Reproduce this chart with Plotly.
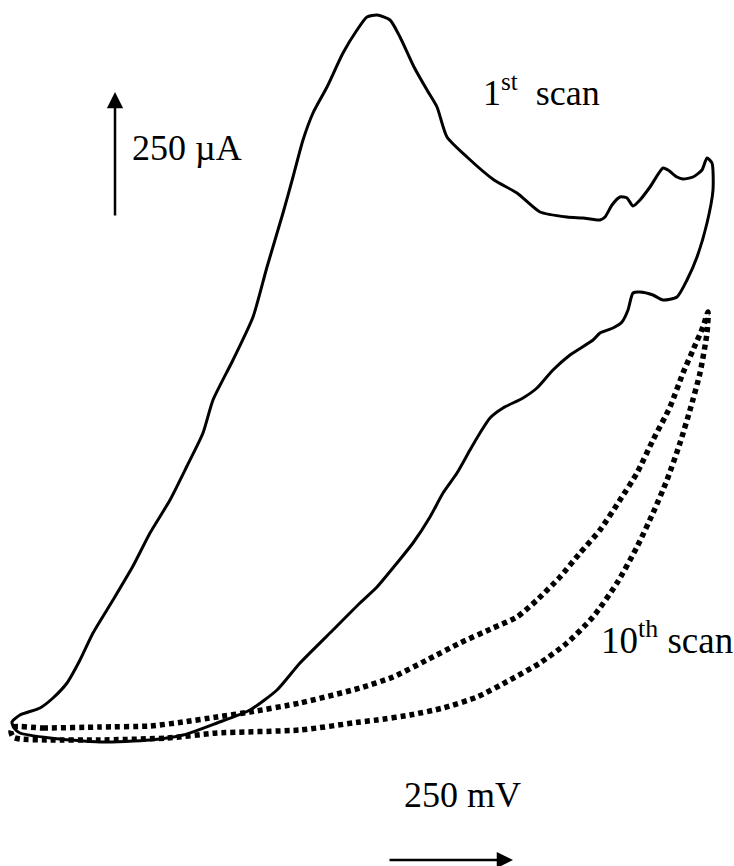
import plotly.graph_objects as go

# 1st scan (solid) : potential (mV, relative) and current (µA, relative)
scan1_E = [0, 4, 16, 76, 176, 276, 342, 410, 476, 530, 576, 642, 696, 730, 770, 802, 836, 862,
           890, 916, 936, 956, 982, 1022, 1050, 1082, 1116, 1162, 1176, 1202, 1220, 1232, 1242,
           1256, 1282, 1302, 1330, 1350, 1370, 1390, 1402, 1400, 1390, 1380, 1362, 1342, 1330,
           1312, 1302, 1276, 1256, 1242, 1230, 1216, 1200, 1186, 1176, 1142, 1110, 1056, 1010,
           964, 910, 870, 850, 830, 804, 776, 756, 730, 710, 690, 662, 630, 602, 582, 562, 542,
           510, 482, 442, 402, 382, 350, 316, 276, 242, 202, 162, 136, 110, 82, 56, 16, 0]
scan1_I = [26, 14, 4, -6, -14, -10, 0, 24, 50, 90, 144, 210, 264, 296, 344, 384, 436, 484,
           524, 570, 604, 634, 654, 674, 694, 730, 760, 790, 804, 814, 826, 850, 884,
           886, 880, 870, 876, 910, 956, 1024, 1090, 1144, 1154, 1130, 1116, 1112, 1116,
           1130, 1134, 1096, 1070, 1058, 1074, 1076, 1060, 1036, 1030, 1034, 1036, 1046, 1084,
           1110, 1156, 1196, 1256, 1290, 1336, 1396, 1430, 1440, 1436, 1410, 1364, 1296, 1244,
           1190, 1116, 1044, 936, 836, 750, 670, 604, 538, 470, 404, 338, 270, 204, 150, 104,
           74, 54, 40, 26]

# 10th scan (dotted)
scan10_E = [2, 62, 176, 276, 342, 410, 476, 576, 696, 762, 830, 896, 962, 1010, 1050, 1096,
            1136, 1176, 1216, 1250, 1282, 1316, 1342, 1362, 1382, 1392,
            1390, 1376, 1356, 1336, 1310, 1282, 1250, 1210, 1162, 1110, 1056, 996, 930, 862,
            796, 730, 696, 576, 410, 310, 176, 76, 16, 2, -2, 2]
scan10_I = [16, 14, 16, 18, 26, 36, 46, 64, 94, 116, 150, 184, 214, 236, 270, 316,
            364, 410, 470, 524, 590, 656, 724, 770, 816, 846,
            804, 724, 650, 584, 510, 444, 376, 304, 236, 184, 144, 110, 76, 54,
            40, 30, 26, 10, 4, -6, -10, -10, -8, -4, 6, 16]

# scale bars: 250 µA and 250 mV
scale_I_E, scale_I_from, scale_I_to = 206, 1036, 1286
scale_E_I, scale_E_from, scale_E_to = -250, 752, 1002

FONT = "Liberation Serif"

fig = go.Figure()
fig.add_trace(go.Scatter(x=scan1_E, y=scan1_I, mode="lines",
                         line=dict(color="black", width=3, shape="spline", smoothing=0.6),
                         showlegend=False))
fig.add_trace(go.Scatter(x=scan10_E, y=scan10_I, mode="lines",
                         line=dict(color="black", width=5.5, dash="5px,4px",
                                   shape="spline", smoothing=0.6),
                         showlegend=False))

# scale bar arrows
fig.add_annotation(x=scale_I_E, y=scale_I_to, ax=scale_I_E, ay=scale_I_from,
                   xref="x", yref="y", axref="x", ayref="y", text="",
                   showarrow=True, arrowhead=2, arrowsize=1.3, arrowwidth=2.5, arrowcolor="black")
fig.add_annotation(x=scale_E_to, y=scale_E_I, ax=scale_E_from, ay=scale_E_I,
                   xref="x", yref="y", axref="x", ayref="y", text="",
                   showarrow=True, arrowhead=2, arrowsize=1.3, arrowwidth=2.5, arrowcolor="black")

labels = [
    ("250 µA", 350, 1174, 36),
    ("1<sup>st</sup>  scan", 1058, 1290, 36),
    ("10<sup>th</sup> scan", 1310, 196, 37),
    ("250 mV", 900, -120, 36),
]
for txt, lx, ly, fs in labels:
    fig.add_annotation(x=lx, y=ly, xref="x", yref="y", text=txt, showarrow=False,
                       xanchor="center", yanchor="middle",
                       font=dict(family=FONT, size=fs, color="black"))

fig.update_xaxes(range=[-24, 1444], visible=False, fixedrange=True)
fig.update_yaxes(range=[-262, 1470], visible=False, fixedrange=True)
fig.update_layout(width=734, height=866, margin=dict(l=0, r=0, t=0, b=0),
                  font=dict(family=FONT),
                  paper_bgcolor="white", plot_bgcolor="white")
fig.write_html("out.html", config={"displayModeBar": False})
